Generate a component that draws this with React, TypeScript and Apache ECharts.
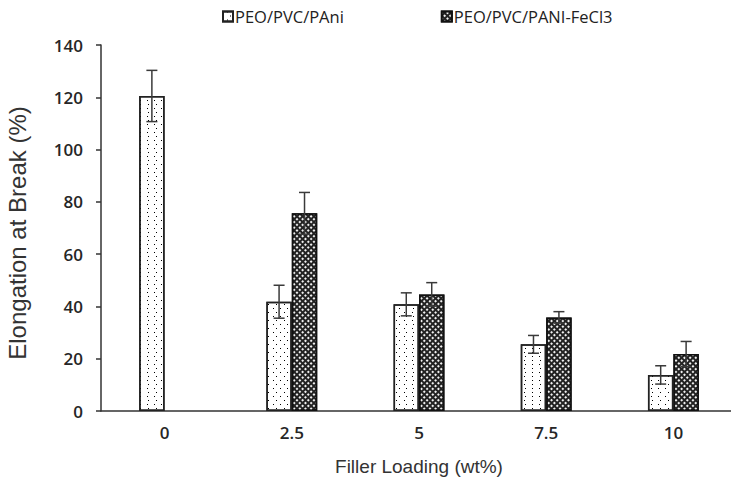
import React, { useEffect, useRef } from "react";
import * as echarts from "echarts";

const categories = ["0", "2.5", "5", "7.5", "10"];
const seriesNames = ["PEO/PVC/PAni", "PEO/PVC/PANI-FeCl3"];
const paniValues = [120.5, 41.8, 40.8, 25.5, 13.8];
const paniErrors = [9.8, 6.3, 4.4, 3.4, 3.5];
const fecl3Values: (number | null)[] = [null, 75.6, 44.6, 35.8, 21.8];
const fecl3Errors = [0, 8.0, 4.5, 2.2, 4.8];
const yTicks = { min: 0, max: 140, interval: 20 };

const labelFont = "'Open Sans', sans-serif";
const titleFont = "'Liberation Sans', Arial, sans-serif";

export default function App() {
  const ref = useRef<HTMLDivElement>(null);

  useEffect(() => {
    if (!ref.current) return;
    const chart = echarts.init(ref.current, null, { renderer: "svg" });

    const errData: number[][] = [];
    paniValues.forEach((v, i) => errData.push([i, v, paniErrors[i], -1]));
    fecl3Values.forEach((v, i) => {
      if (v != null) errData.push([i, v, fecl3Errors[i], 1]);
    });

    const option: any = {
      animation: false,
      backgroundColor: "#ffffff",
      grid: { left: 101, right: -6, top: 45, bottom: 75, outerBoundsMode: "none", containLabel: false },
      legend: {
        data: seriesNames,
        left: 217,
        top: 3,
        itemWidth: 10,
        itemHeight: 10,
        itemGap: 97,
        icon: "rect",
        textStyle: { fontFamily: labelFont, fontWeight: "normal", fontSize: 16.5, color: "#222", padding: [0, 0, 0, -3] },
      },
      xAxis: {
        type: "category",
        data: categories,
        name: "Filler Loading (wt%)",
        nameLocation: "middle",
        nameGap: 46,
        nameTextStyle: { fontFamily: titleFont, fontSize: 19, color: "#333" },
        axisLine: { lineStyle: { color: "#333", width: 1.5 } },
        axisTick: { show: false },
        axisLabel: { fontFamily: labelFont, fontWeight: 600, fontSize: 17, color: "#262626", margin: 13 },
        splitLine: { show: false },
      },
      yAxis: {
        type: "value",
        min: yTicks.min,
        max: yTicks.max,
        interval: yTicks.interval,
        name: "Elongation at Break (%)",
        nameLocation: "middle",
        nameGap: 72,
        nameTextStyle: { fontFamily: titleFont, fontSize: 24, color: "#333", padding: [0, 10, 0, 0] },
        axisLine: { show: true, lineStyle: { color: "#333", width: 1.5 } },
        axisTick: { show: true, length: 5, lineStyle: { color: "#333", width: 1.5 } },
        axisLabel: { fontFamily: labelFont, fontWeight: 600, fontSize: 17, color: "#262626", margin: 18 },
        splitLine: { show: false },
      },
      series: [
        {
          name: seriesNames[0],
          type: "bar",
          data: paniValues,
          barGap: "0%",
          barCategoryGap: "60%",
          itemStyle: {
            color: "#ffffff",
            borderColor: "#222",
            borderWidth: 1.5,
            decal: {
              symbol: "rect",
              symbolSize: 1,
              color: "#000",
              backgroundColor: "#ffffff",
              dashArrayX: [[1, 6], [0, 3.5, 1, 2.5]],
              dashArrayY: [1, 3],
            },
          },
        },
        {
          name: seriesNames[1],
          type: "bar",
          data: fecl3Values,
          barGap: "0%",
          barCategoryGap: "60%",
          itemStyle: {
            color: "#222",
            borderColor: "#111",
            borderWidth: 1.5,
            decal: {
              symbol: "rect",
              symbolSize: 1,
              color: "#f0f0f0",
              backgroundColor: "#141414",
              dashArrayX: [1.6, 1.9],
              dashArrayY: [1.6, 1.9],
              rotation: Math.PI / 4,
            },
          },
        },
        {
          name: "errors",
          type: "custom",
          data: errData,
          encode: { x: 0, y: 1 },
          z: 5,
          renderItem: (params: any, api: any) => {
            const i = api.value(0);
            const v = api.value(1);
            const e = api.value(2);
            const side = api.value(3);
            if (!e) return null;
            const band = api.size([1, 0])[0];
            const top = api.coord([i, v + e]);
            const bot = api.coord([i, v - e]);
            const x = top[0] + side * band * 0.1;
            const hw = 5.5;
            const st = { stroke: "#3a3a3a", lineWidth: 1.5 };
            return {
              type: "group",
              children: [
                { type: "line", shape: { x1: x, y1: top[1], x2: x, y2: bot[1] }, style: st },
                { type: "line", shape: { x1: x - hw, y1: top[1], x2: x + hw, y2: top[1] }, style: st },
                { type: "line", shape: { x1: x - hw, y1: bot[1], x2: x + hw, y2: bot[1] }, style: st },
              ],
            };
          },
        },
      ],
    };

    chart.setOption(option);
    return () => chart.dispose();
  }, []);

  return (
    <div
      ref={ref}
      style={{ position: "fixed", left: 0, top: 0, width: 731, height: 486 }}
    />
  );
}
